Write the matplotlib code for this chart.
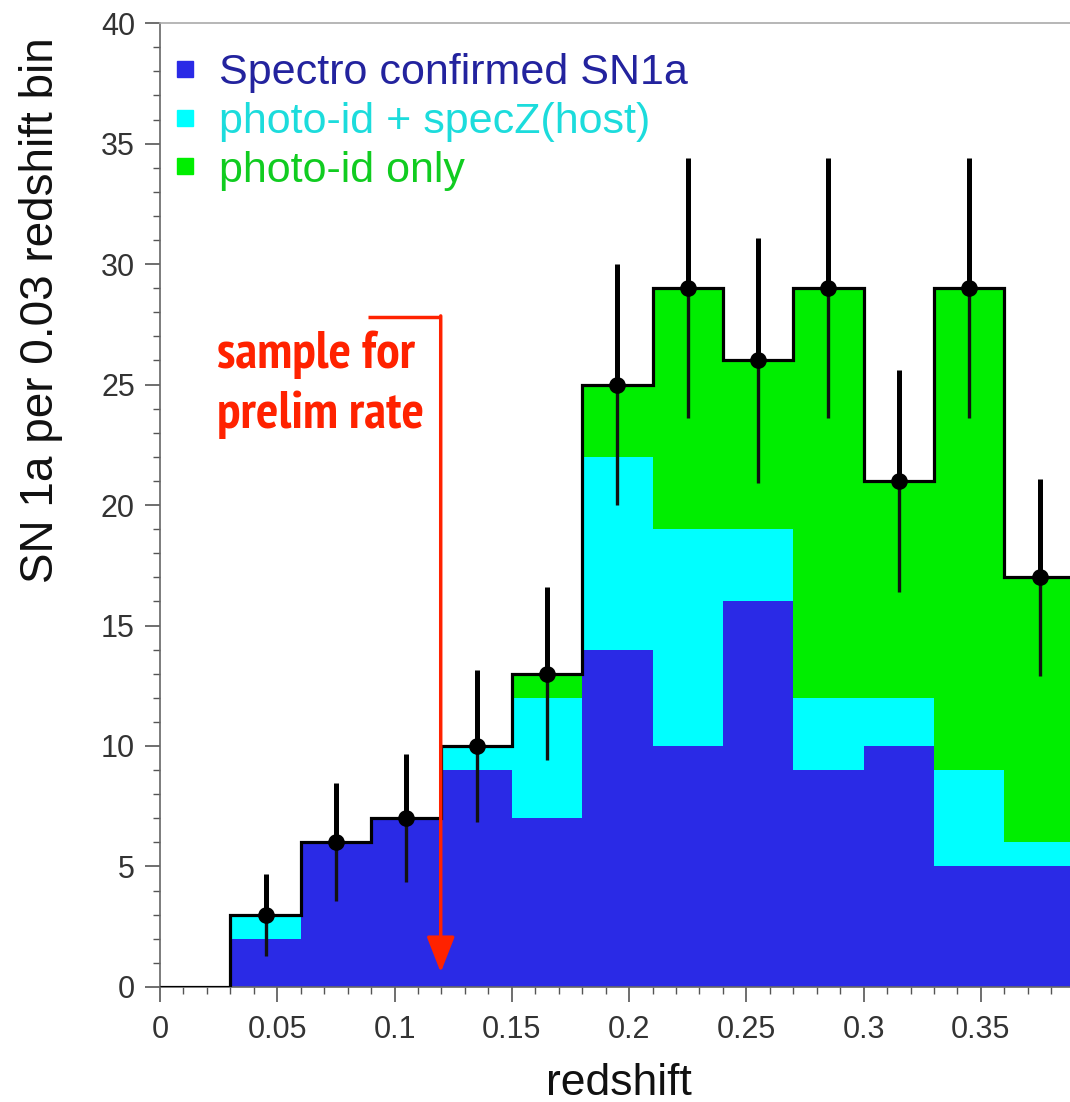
import matplotlib
matplotlib.use("Agg")
import matplotlib.pyplot as plt
import numpy as np
from matplotlib.lines import Line2D
from matplotlib.ticker import MultipleLocator

# ---- data ----
bin_edges = [0.0, 0.03, 0.06, 0.09, 0.12, 0.15, 0.18, 0.21, 0.24, 0.27, 0.30, 0.33, 0.36, 0.39]
spectro = [0, 2, 6, 7, 9, 7, 14, 10, 16, 9, 10, 5, 5]
photo_specz = [0, 1, 0, 0, 1, 5, 8, 9, 3, 3, 2, 4, 1]
photo_only = [0, 0, 0, 0, 0, 1, 3, 10, 7, 17, 9, 20, 11]
total_err = [0, 1.7, 2.45, 2.65, 3.16, 3.6, 5.0, 5.4, 5.1, 5.4, 4.6, 5.4, 4.1]
legend_labels = ["Spectro confirmed SN1a", "photo-id + specZ(host)", "photo-id only"]
x_ticks = [0, 0.05, 0.1, 0.15, 0.2, 0.25, 0.3, 0.35]
x_ticklabels = ["0", "0.05", "0.1", "0.15", "0.2", "0.25", "0.3", "0.35"]
y_ticks = [0, 5, 10, 15, 20, 25, 30, 35, 40]

fill_colors = ["#2a2ae6", "#00ffff", "#00ee00"]
text_colors = ["#23239e", "#1cdcdc", "#10cc20"]
RED = "#ff2200"

fig = plt.figure(figsize=(10.7, 11.02), dpi=100)
ax = fig.add_axes([0.1495, 0.1044, 0.8505, 0.8746])

edges = np.array(bin_edges)
s = np.array(spectro)
c1 = s + np.array(photo_specz)
tot = c1 + np.array(photo_only)

ax.stairs(s, edges, baseline=0, fill=True, color=fill_colors[0], lw=0, zorder=1)
ax.stairs(c1, edges, baseline=s, fill=True, color=fill_colors[1], lw=0, zorder=1)
ax.stairs(tot, edges, baseline=c1, fill=True, color=fill_colors[2], lw=0, zorder=1)
ax.stairs(tot, edges, baseline=None, fill=False, color="black", lw=2.3, zorder=3)

centers = (edges[:-1] + edges[1:]) / 2
mask = tot > 0
err = np.array(total_err)[mask]
zeros = np.zeros_like(err)
ax.errorbar(centers[mask], tot[mask], yerr=[zeros, err], fmt="none",
            ecolor="black", elinewidth=3.6, capsize=0, zorder=4)
ax.errorbar(centers[mask], tot[mask], yerr=[err, zeros], fmt="none",
            ecolor="#111111", elinewidth=2.4, capsize=0, zorder=4)
ax.plot(centers[mask], tot[mask], "o", color="black", ms=11, zorder=5)

# annotation
ax.plot([0.0886, 0.1197], [27.8, 27.8], color=RED, lw=2.5, zorder=5,
        solid_capstyle="butt")
ax.annotate("", xy=(0.1197, 0.6), xytext=(0.1197, 27.85),
            arrowprops=dict(arrowstyle="-|>,head_width=0.43,head_length=1.1",
                            color=RED, lw=2.5, mutation_scale=20,
                            shrinkA=0, shrinkB=0), zorder=5)
ax.text(0.0243, 25.0, "sample for\nprelim rate", color=RED,
        fontsize=38, fontweight="bold", family=["PT Sans Narrow", "DejaVu Sans"],
        ha="left", va="center", linespacing=1.3, zorder=6)

# legend
handles = [Line2D([], [], marker="s", ls="", color=c, markersize=11) for c in fill_colors]
leg = ax.legend(handles, legend_labels, loc="upper left", bbox_to_anchor=(-0.02, 1.0),
                frameon=False, prop={"family": "Liberation Sans", "size": 31},
                labelcolor=text_colors, handlelength=0.6, handletextpad=0.5,
                labelspacing=0.2, borderaxespad=0.45, borderpad=0.25)

ax.set_xlim(0, 0.388)
ax.set_ylim(0, 40)
ax.set_xticks(x_ticks)
ax.set_xticklabels(x_ticklabels)
ax.set_yticks(y_ticks)
ax.xaxis.set_minor_locator(MultipleLocator(0.01))
ax.yaxis.set_minor_locator(MultipleLocator(1))
ax.tick_params(which="major", direction="out", length=11, width=1.2, color="#555555",
               labelsize=22, labelcolor="#333333", pad=7)
ax.tick_params(which="minor", direction="out", length=5, width=1.0, color="#555555")
ax.tick_params(axis="x", which="major", pad=9)
for lab in ax.get_xticklabels() + ax.get_yticklabels():
    lab.set_family("Liberation Sans")

for side in ["left", "bottom", "top"]:
    ax.spines[side].set_color("#666666")
    ax.spines[side].set_linewidth(1.2)
ax.spines["top"].set_color("#aaaaaa")
ax.spines["right"].set_visible(False)

fig.text(0.5785, 0.0064, "redshift", fontsize=32, family="Liberation Sans",
         color="#111111", ha="center", va="baseline")
fig.text(0.038, 0.719, "SN 1a per 0.03 redshift bin", fontsize=33,
         family="Liberation Sans", color="#111111", rotation=90,
         ha="center", va="center")

fig.savefig("out.png", dpi=100, facecolor="white")
